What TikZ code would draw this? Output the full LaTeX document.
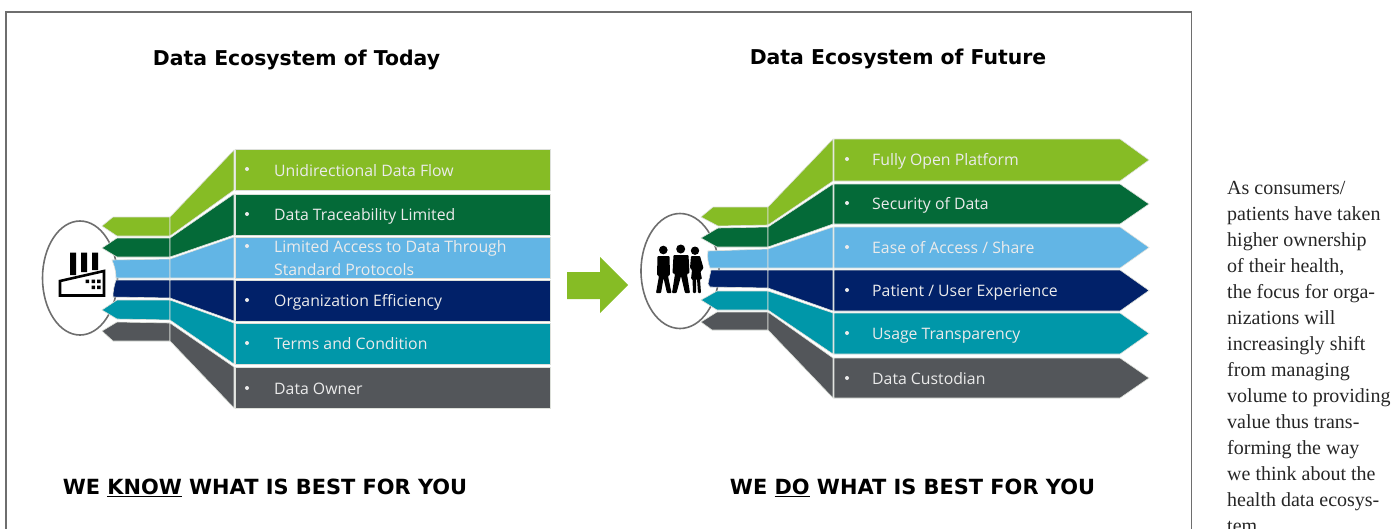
\documentclass[tikz,border=0pt]{standalone}
\usepackage{fontspec}
\usetikzlibrary{shapes.geometric}
\setmainfont{Liberation Serif}
\newfontfamily\headfont{DejaVu Sans}
\newfontfamily\barfont{Open Sans}
\definecolor{cgreen}{HTML}{86BC25}
\definecolor{cdark}{HTML}{046A38}
\definecolor{clight}{HTML}{62B5E5}
\definecolor{cnavy}{HTML}{012169}
\definecolor{cteal}{HTML}{0097A9}
\definecolor{cgray}{HTML}{53565A}
\definecolor{cedge}{HTML}{DDE0DA}
\definecolor{cframe}{HTML}{6E6E6E}
\tikzset{
  x=1pt,y=-1pt,
  band/.style={draw=cedge,line width=0.6pt,line join=miter},
  title/.style={font=\headfont\bfseries\fontsize{20.4}{24}\selectfont,text=black,inner sep=0pt,anchor=base},
  slogan/.style={font=\headfont\bfseries\fontsize{20.9}{25}\selectfont,text=black,inner sep=0pt,anchor=base},
  label/.style={font=\barfont\fontsize{15.8}{22.5}\selectfont,text=white!92!black,inner sep=0pt,anchor=base west,align=left},
  dot/.style={circle,fill=white!92!black,inner sep=0pt,minimum size=4pt},
  blob/.style={draw=cframe,line width=1.6pt,ellipse,inner sep=0pt,fill=white},
  icon/.style={fill=black,draw=none},
}
\begin{document}
\begin{tikzpicture}
\useasboundingbox (0,0) rectangle (1397,528);
\clip (0,0) rectangle (1397,528);
% frame
\draw[cframe,line width=1.4pt] (6,530) -- (6,12) -- (1191.5,12) -- (1191.5,530);
% titles
\node[title] (t1) at (296.5,65) {Data Ecosystem of Today};
\node[title] (t2) at (898,64) {Data Ecosystem of Future};
\node[slogan] (s1) at (265,494) {WE \underline{KNOW} WHAT IS BEST FOR YOU};
\node[slogan] (s2) at (912.5,494) {WE \underline{DO} WHAT IS BEST FOR YOU};
% ---------- left circle
\node[blob,minimum width=75pt,minimum height=114pt] (e1) at (80,278) {};
% factory
\fill[icon] (70,252.5) rectangle (76,275) (81,252.5) rectangle (87,272) (92,252.5) rectangle (98,270);
\draw[black,line width=2.6pt,fill=white,line join=miter] (60,281) -- (104,271) -- (104,295.5) -- (60,295.5) -- cycle;
\fill[icon] (85.5,279.5) rectangle (89,283) (91.5,279.5) rectangle (95,283) (97,279.5) rectangle (100.5,283)
            (91.5,285.5) rectangle (95,289) (97,285.5) rectangle (100.5,289);
% left bands, left part
\filldraw[band,fill=cgreen] (102,226) -- (113,217) -- (170,217) -- (170,236) -- (117,236) -- cycle;
\filldraw[band,fill=cdark] (102,248) -- (117,238) -- (170,238) -- (170,257) -- (117,257) -- cycle;
\filldraw[band,fill=clight] (112,260) -- (170,259) -- (170,278) -- (116,278) .. controls (116,270) and (114,265) .. (112,260) -- cycle;
\filldraw[band,fill=cnavy] (116,280) -- (170,280) -- (170,298) -- (113,297) .. controls (113,291) and (114,286) .. (116,280) -- cycle;
\filldraw[band,fill=cteal] (102,310) -- (117,300) -- (170,300) -- (170,320) -- (117,319) -- cycle;
\filldraw[band,fill=cgray] (102,331) -- (117,322) -- (170,323) -- (170,341) -- (113,341) -- cycle;
% left bands, middle part
\filldraw[band,fill=cgreen] (170,217) -- (234,150) -- (234,190) -- (170,236) -- cycle;
\filldraw[band,fill=cdark] (170,238) -- (234,194) -- (234,235) -- (170,257) -- cycle;
\filldraw[band,fill=clight] (170,259) -- (234,237) -- (234,278) -- (170,278) -- cycle;
\filldraw[band,fill=cnavy] (170,280) -- (234,280) -- (234,321) -- (170,298) -- cycle;
\filldraw[band,fill=cteal] (170,300) -- (234,323) -- (234,364) -- (170,320) -- cycle;
\filldraw[band,fill=cgray] (170,323) -- (234,367) -- (234,408) -- (170,341) -- cycle;
% left bars
\filldraw[band,fill=cgreen] (235,149) rectangle (550,190);
\filldraw[band,fill=cdark] (235,194) rectangle (550,235);
\filldraw[band,fill=clight] (235,237) rectangle (550,278);
\filldraw[band,fill=cnavy] (235,280) rectangle (550,321);
\filldraw[band,fill=cteal] (235,323) rectangle (550,364);
\filldraw[band,fill=cgray] (235,367) rectangle (550,408);
% left labels
\node[dot] (d1) at (247,169) {};
\node[dot] (d2) at (247,214) {};
\node[dot] (d3) at (247,246) {};
\node[dot] (d4) at (247,300) {};
\node[dot] (d5) at (247,343) {};
\node[dot] (d6) at (247,388) {};
\node[label] (l1) at (274,176) {Unidirectional Data Flow};
\node[label] (l2) at (274,220) {Data Traceability Limited};
\node[label,anchor=north west] (l3) at (274,240.5) {Limited Access to Data Through\\Standard Protocols};
\node[label] (l4) at (274,306) {Organization Efficiency};
\node[label] (l5) at (274,349) {Terms and Condition};
\node[label] (l6) at (274,394) {Data Owner};
% arrow
\fill[cgreen] (567,272) -- (600,272) -- (600,257) -- (628,285) -- (600,313) -- (600,299) -- (567,299) -- cycle;
% ---------- right circle
\node[blob,minimum width=78pt,minimum height=115pt] (e2) at (680,271) {};
% people
\fill[icon] (663.3,250) circle (4.3) (680.7,249) circle (4.5) (695,250.7) circle (4.2);
\fill[icon,rounded corners=0.8pt] (657.5,256) -- (669.5,256) -- (670,275) -- (668,276) -- (671.5,293) -- (667,293) -- (663.5,278) -- (661,293) -- (656,293) -- (659,276) -- (657,275) -- cycle;
\fill[icon,rounded corners=0.8pt] (673.5,255) -- (688.5,255) -- (689.5,273) -- (687,274) -- (690,293) -- (685,293) -- (681,276) -- (676.5,293) -- (672,293) -- (675,274) -- (672.5,273) -- cycle;
\fill[icon,rounded corners=0.8pt] (691,256) -- (700,256) -- (703.5,268) -- (700.5,272) -- (702,279) -- (700,279) -- (701,293) -- (698,293) -- (697,279) -- (696,279) -- (696,293) -- (693,293) -- (692.5,279) -- (691,279) -- (692,270) -- (690,268) -- cycle;
% right bands, left part
\filldraw[band,fill=cgreen] (701,217) -- (713,207) -- (768,207) -- (768,225) -- (718,226) -- cycle;
\filldraw[band,fill=cdark] (701,238) -- (718,228) -- (768,227) -- (768,247) -- (717,247) -- cycle;
\filldraw[band,fill=clight] (708,251) -- (768,249) -- (768,268) -- (710,268) .. controls (708,263) and (707,257) .. (708,251) -- cycle;
\filldraw[band,fill=cnavy] (711,270) -- (768,270) -- (768,288) -- (710,287) -- (708,284) -- cycle;
\filldraw[band,fill=cteal] (701,300) -- (717,291) -- (768,291) -- (768,310) -- (717,310) -- cycle;
\filldraw[band,fill=cgray] (701,322) -- (717,312) -- (768,312) -- (768,330) -- (712,330) -- cycle;
% right bands, middle part
\filldraw[band,fill=cgreen] (768,207) -- (833,139) -- (833,181) -- (768,225) -- cycle;
\filldraw[band,fill=cdark] (768,227) -- (833,184) -- (833,224) -- (768,247) -- cycle;
\filldraw[band,fill=clight] (768,249) -- (833,227) -- (833,268) -- (768,268) -- cycle;
\filldraw[band,fill=cnavy] (768,270) -- (833,270) -- (833,311) -- (768,288) -- cycle;
\filldraw[band,fill=cteal] (768,291) -- (833,313) -- (833,354) -- (768,310) -- cycle;
\filldraw[band,fill=cgray] (768,312) -- (833,358) -- (833,398) -- (768,330) -- cycle;
% right pentagons
\filldraw[band,fill=cgreen] (834,139) -- (1120,139) -- (1149,160) -- (1120,181) -- (834,181) -- cycle;
\filldraw[band,fill=cdark] (834,184) -- (1120,184) -- (1149,204) -- (1120,224) -- (834,224) -- cycle;
\filldraw[band,fill=clight] (834,227) -- (1120,227) -- (1149,247.5) -- (1120,268) -- (834,268) -- cycle;
\filldraw[band,fill=cnavy] (834,270) -- (1120,270) -- (1149,290.5) -- (1120,311) -- (834,311) -- cycle;
\filldraw[band,fill=cteal] (834,313) -- (1120,313) -- (1149,333.5) -- (1120,354) -- (834,354) -- cycle;
\filldraw[band,fill=cgray] (834,358) -- (1120,358) -- (1149,378) -- (1120,398) -- (834,398) -- cycle;
% right labels
\node[dot] (r1) at (847,159) {};
\node[dot] (r2) at (847,203) {};
\node[dot] (r3) at (847,247) {};
\node[dot] (r4) at (847,290) {};
\node[dot] (r5) at (847,333) {};
\node[dot] (r6) at (847,378) {};
\node[label] (m1) at (872,165.5) {Fully Open Platform};
\node[label] (m2) at (872,209.5) {Security of Data};
\node[label] (m3) at (872,253.5) {Ease of Access / Share};
\node[label] (m4) at (872,296.5) {Patient / User Experience};
\node[label] (m5) at (872,339.5) {Usage Transparency};
\node[label] (m6) at (872,384.5) {Data Custodian};
% caption
\node[anchor=north west,inner sep=0pt,align=left,text=black!85,font=\fontsize{20}{26}\selectfont] (cap) at (1227,181) {As consumers/\\
patients have taken\\
higher ownership\\
of their health,\\
the focus for orga-\\
nizations will\\
increasingly shift\\
from managing\\
volume to providing\\
value thus trans-\\
forming the way\\
we think about the\\
health data ecosys-\\
tem.};
\end{tikzpicture}
\end{document}
